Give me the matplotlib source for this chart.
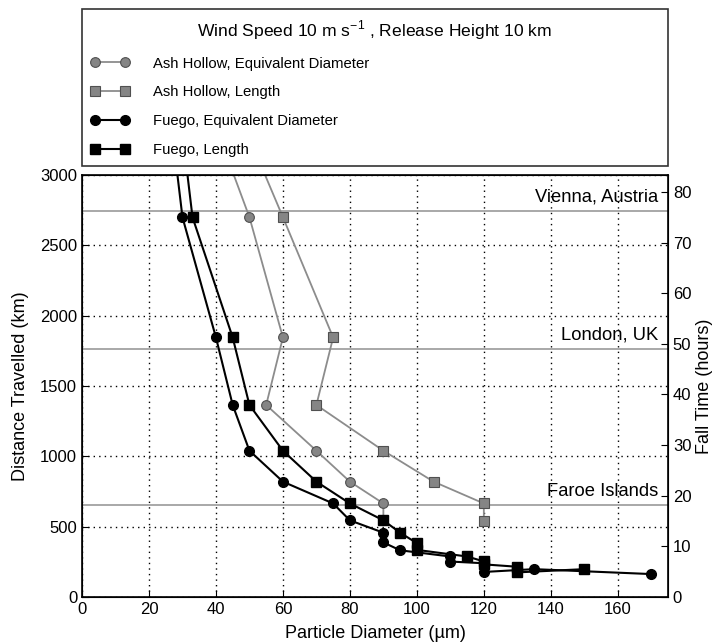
import matplotlib
matplotlib.use("Agg")
import matplotlib.pyplot as plt
import numpy as np

plt.rcParams['font.family'] = ['Liberation Sans', 'DejaVu Sans']
plt.rcParams['mathtext.fontset'] = 'custom'
plt.rcParams['mathtext.rm'] = 'Liberation Sans'

# ---- data ----
ash_ed_x = [36, 50, 60, 55, 70, 80, 90, 90]
ash_ed_y = [3600, 2700, 1845, 1365, 1040, 820, 665, 545]

ash_len_x = [44, 60, 75, 70, 90, 105, 120, 120]
ash_len_y = [3600, 2700, 1845, 1365, 1040, 820, 665, 540]

fuego_ed_x = [25.5, 30, 40, 45, 50, 60, 75, 80, 90, 90, 95, 110, 110, 120, 120, 135, 170]
fuego_ed_y = [3600, 2700, 1845, 1365, 1040, 820, 665, 545, 457, 388, 332, 288, 252, 240, 178, 198, 163]

fuego_len_x = [28.5, 33, 45, 50, 60, 70, 80, 90, 95, 100, 100, 115, 120, 120, 130, 130, 150]
fuego_len_y = [3600, 2700, 1845, 1365, 1040, 820, 665, 545, 457, 383, 335, 288, 253, 232, 215, 175, 198]

places = ["Vienna, Austria", "London, UK", "Faroe Islands"]
place_km = [2745, 1765, 652]

wind_speed = 10.0  # m/s -> km/h = 36
kmh = wind_speed * 3.6

x_ticks = list(range(0, 161, 20))
y_ticks = list(range(0, 3001, 500))
t_ticks = list(range(0, 81, 10))

# ---- figure ----
fig = plt.figure(figsize=(7.2, 6.44), dpi=100)
ax = fig.add_axes([82/720, 47/644, 586/720, 422/644])

grey_line = '#8c8c8c'
grey_fill = '#858585'
grey_edge = '#505050'

for name, km in zip(places, place_km):
    ax.axhline(km, color='#999999', lw=1.2, zorder=1)
    ax.text(172, km + 35, name, ha='right', va='bottom', fontsize=13.2, zorder=2)

l1, = ax.plot(ash_ed_x, ash_ed_y, '-o', color=grey_line, lw=1.3,
              mfc=grey_fill, mec=grey_edge, ms=7, mew=0.8,
              label='Ash Hollow, Equivalent Diameter', zorder=3)
l2, = ax.plot(ash_len_x, ash_len_y, '-s', color=grey_line, lw=1.3,
              mfc=grey_fill, mec=grey_edge, ms=7, mew=0.8,
              label='Ash Hollow, Length', zorder=3)
l3, = ax.plot(fuego_ed_x, fuego_ed_y, '-o', color='black', lw=1.5,
              mfc='black', mec='black', ms=7,
              label='Fuego, Equivalent Diameter', zorder=4)
l4, = ax.plot(fuego_len_x, fuego_len_y, '-s', color='black', lw=1.5,
              mfc='black', mec='black', ms=7,
              label='Fuego, Length', zorder=4)

ax.set_xlim(0, 175)
ax.set_ylim(0, 3000)
ax.set_xticks(x_ticks)
ax.set_yticks(y_ticks)
ax.grid(True, color='black', linestyle=(0, (1, 3)), lw=1.0)
ax.tick_params(direction='in', labelsize=12, length=5)
ax.set_xlabel('Particle Diameter (µm)', fontsize=13, labelpad=6)
ax.set_ylabel('Distance Travelled (km)', fontsize=13, labelpad=8)
for s in ax.spines.values():
    s.set_linewidth(1.2)

ax2 = ax.twinx()
ax2.set_ylim(0, 3000 / kmh)
ax2.set_yticks(t_ticks)
ax2.tick_params(direction='in', labelsize=12, length=5)
ax2.set_ylabel('Fall Time (hours)', fontsize=13, labelpad=3)

leg = ax.legend(handles=[l1, l2, l3, l4], loc='lower left',
                bbox_to_anchor=(0, 1.021, 1, 0.37), mode='expand',
                borderaxespad=0, numpoints=2, fontsize=10.7,
                title='Wind Speed 10 m s$^{-1}$ , Release Height 10 km',
                title_fontsize=12.6, fancybox=False, frameon=True,
                handlelength=2.6, handletextpad=1.6, labelspacing=1.0,
                borderpad=0.6)
leg.get_frame().set_edgecolor('black')
leg.get_frame().set_linewidth(1.2)

fig.savefig('out.png', dpi=100)
